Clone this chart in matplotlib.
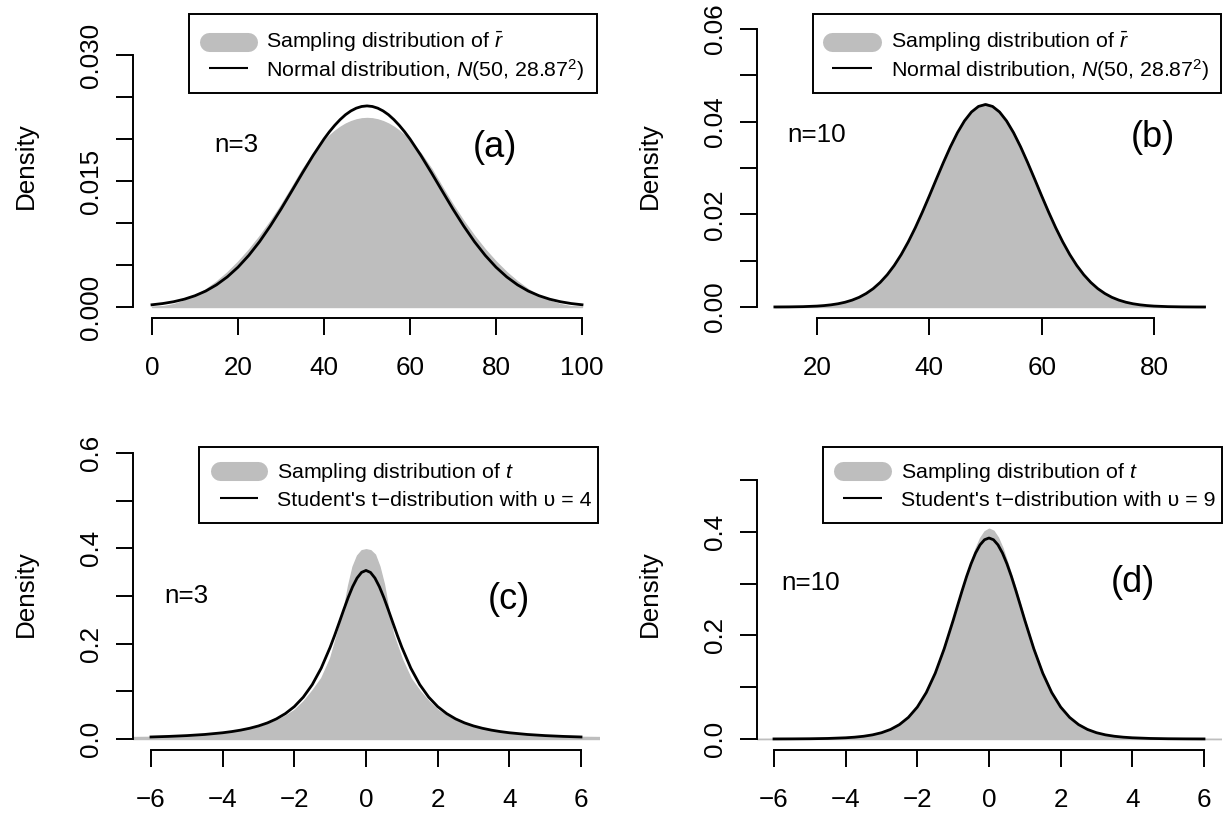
import matplotlib
matplotlib.use("Agg")
import matplotlib.pyplot as plt
from matplotlib.patches import Rectangle
from matplotlib.lines import Line2D

plt.rcParams['font.family'] = ['Liberation Sans', 'DejaVu Sans']
plt.rcParams['mathtext.fontset'] = 'custom'
plt.rcParams['mathtext.rm'] = 'Liberation Sans'
plt.rcParams['mathtext.it'] = 'Liberation Sans:italic'

# ---------------- data ----------------
# (a) n=3, sample mean
a_x = [0, 2.5, 5, 7.5, 10, 12.5, 15, 17.5, 20, 22.5, 25, 27.5, 30, 32.5, 35, 37.5, 40,
       41.25, 42.5, 43.75, 45, 46.25, 47.5, 48.75, 50, 51.25, 52.5, 53.75, 55, 56.25, 57.5,
       58.75, 60,
       62.5, 65, 67.5, 70, 72.5, 75, 77.5, 80, 82.5, 85, 87.5, 90, 92.5, 95, 97.5, 100]
a_hist = [0.00002, 0.000084, 0.000338, 0.00076, 0.00135, 0.00211, 0.00304, 0.00413, 0.0054,
          0.00683, 0.00844, 0.01021, 0.01215, 0.01426, 0.01643, 0.01828, 0.0198,
          0.020433, 0.02098, 0.021445, 0.02183, 0.02212, 0.02233, 0.022458, 0.0225, 0.022458,
          0.02233, 0.02212, 0.02183, 0.021445, 0.02098, 0.020433, 0.0198,
          0.01828, 0.01643, 0.01426, 0.01215, 0.01021, 0.00844, 0.00683, 0.0054, 0.00413,
          0.00304, 0.00211, 0.00135, 0.00076, 0.000338, 0.000084, 0.00002]
a_curve = [0.000266, 0.000412, 0.000626, 0.000927, 0.001344, 0.00190, 0.00264, 0.00358,
           0.00474, 0.00614, 0.00777, 0.00963, 0.01165, 0.01380, 0.01597, 0.01807, 0.02000,
           0.02086, 0.02163, 0.02231, 0.02289, 0.02334, 0.02367, 0.02387, 0.02394, 0.02387,
           0.02367, 0.02334, 0.02289, 0.02231, 0.02163, 0.02086, 0.02000,
           0.01807, 0.01597, 0.01380, 0.01165, 0.00963, 0.00777, 0.00614, 0.00474, 0.00358,
           0.00264, 0.00190, 0.001344, 0.000927, 0.000626, 0.000412, 0.000266]

# (b) n=10, sample mean
b_x = [12.5, 15, 17.5,
       20, 21.25, 22.5, 23.75, 25, 26.25, 27.5, 28.75, 30, 31.25, 32.5, 33.75, 35, 36.25,
       37.5, 38.75, 40, 41.25, 42.5, 43.75, 45, 46.25, 47.5, 48.75, 50, 51.25, 52.5, 53.75,
       55, 56.25, 57.5, 58.75, 60, 61.25, 62.5, 63.75, 65, 66.25, 67.5, 68.75, 70, 71.25,
       72.5, 73.75, 75, 76.25, 77.5, 78.75, 80,
       82.5, 85, 87.5, 89]
b_hist = [0.00001, 0.00003, 0.00008,
          0.0002, 0.00031, 0.00048, 0.00071, 0.00104, 0.00149, 0.0021, 0.00292, 0.00398,
          0.00532, 0.00701, 0.00899, 0.01138, 0.01410, 0.01716, 0.02050, 0.02402, 0.02765,
          0.03124, 0.03462, 0.03768, 0.04025, 0.04222, 0.04348, 0.04400, 0.04345, 0.04220,
          0.04022, 0.03765, 0.03460, 0.03120, 0.02762, 0.02400, 0.02047, 0.01712, 0.01405,
          0.01130, 0.00894, 0.00694, 0.00529, 0.00394, 0.00290, 0.00207, 0.00147, 0.00102,
          0.00069, 0.00046, 0.0003, 0.00019,
          0.00007, 0.00003, 0.00001, 0.000005]
b_curve = [0.0000094, 0.000028, 0.0000773,
           0.000197, 0.000307, 0.00047, 0.000700, 0.00103, 0.001483, 0.00209, 0.002912,
           0.00396, 0.005304, 0.00696, 0.008964, 0.01133, 0.01406, 0.01711, 0.02045, 0.02398,
           0.02761, 0.03118, 0.03457, 0.03761, 0.04016, 0.04209, 0.04329, 0.0437, 0.04329,
           0.04209, 0.04016, 0.03761, 0.03457, 0.03118, 0.02761, 0.02398, 0.02045, 0.01711,
           0.01406, 0.01133, 0.008964, 0.00696, 0.005304, 0.00396, 0.002912, 0.00209,
           0.001483, 0.00103, 0.000700, 0.00047, 0.000307, 0.000197,
           0.0000773, 0.000028, 0.0000094, 0.0000045]

# (c) n=3, t statistic
c_hist_x = [-6.6, -6, -5, -4, -3.5, -3, -2.5, -2.25, -2, -1.75, -1.5, -1.25, -1, -0.75, -0.625,
            -0.5, -0.375, -0.25, -0.125, 0, 0.125, 0.25, 0.375, 0.5, 0.625, 0.75, 1, 1.25, 1.5,
            1.75, 2, 2.25, 2.5, 3, 3.5, 4, 5, 6, 6.6]
c_hist = [0.004, 0.0045, 0.0068, 0.0122, 0.0168, 0.0248, 0.039, 0.049, 0.061, 0.079, 0.102, 0.128,
          0.17, 0.236, 0.272, 0.322, 0.362, 0.385, 0.396, 0.398, 0.396, 0.387, 0.362, 0.325, 0.272,
          0.222, 0.168, 0.127, 0.101, 0.079, 0.061, 0.049, 0.039, 0.0248, 0.0168, 0.0122, 0.0068,
          0.0045, 0.004]
t_x = [-6, -5.5, -5, -4.5, -4, -3.75, -3.5, -3.25, -3, -2.75, -2.5, -2.25, -2, -1.75, -1.5,
       -1.25, -1, -0.875, -0.75, -0.625, -0.5, -0.375, -0.25, -0.125, 0, 0.125, 0.25, 0.375,
       0.5, 0.625, 0.75, 0.875, 1, 1.25, 1.5, 1.75, 2, 2.25, 2.5, 2.75, 3, 3.25, 3.5, 3.75, 4,
       4.5, 5, 5.5, 6]
c_curve = [0.00427, 0.00546, 0.00713, 0.00953, 0.01309, 0.01554, 0.0186, 0.02247, 0.0274, 0.0338,
           0.0422, 0.0533, 0.0680, 0.0878, 0.1141, 0.1487, 0.1925, 0.2174, 0.2438, 0.2705,
           0.2963, 0.3193, 0.3376, 0.3495, 0.3536, 0.3495, 0.3376, 0.3193, 0.2963, 0.2705,
           0.2438, 0.2174, 0.1925, 0.1487, 0.1141, 0.0878, 0.0680, 0.0533, 0.0422, 0.0338,
           0.0274, 0.02247, 0.0186, 0.01554, 0.01309, 0.00953, 0.00713, 0.00546, 0.00427]

# (d) n=10, t statistic
d_hist_x = [-6.6, -6, -5, -4, -3.5, -3, -2.5, -2.25, -2, -1.75, -1.5, -1.25, -1, -0.75, -0.5,
            -0.375, -0.25, -0.125, 0, 0.125, 0.25, 0.375, 0.5, 0.75, 1, 1.25, 1.5, 1.75, 2, 2.25,
            2.5, 3, 3.5, 4, 5, 6, 6.6]
d_hist = [0.0001, 0.00015, 0.0006, 0.0024, 0.0053, 0.0121, 0.0276, 0.0415, 0.0615, 0.0895, 0.127,
          0.1745, 0.230, 0.289, 0.342, 0.368, 0.388, 0.401, 0.406, 0.402, 0.389, 0.369, 0.343,
          0.289, 0.229, 0.1745, 0.127, 0.0895, 0.0615, 0.0415, 0.0276, 0.0121, 0.0053, 0.0024,
          0.0006, 0.00015, 0.0001]
d_curve = [0.000124, 0.000246, 0.000504, 0.00107, 0.00235, 0.00351, 0.00529, 0.0080, 0.01213,
           0.01838, 0.0278, 0.0417, 0.0617, 0.0897, 0.1271, 0.1743, 0.2291, 0.2580, 0.2865,
           0.3138, 0.3383, 0.3591, 0.3748, 0.3847, 0.3880, 0.3847, 0.3748, 0.3591, 0.3383,
           0.3138, 0.2865, 0.2580, 0.2291, 0.1743, 0.1271, 0.0897, 0.0617, 0.0417, 0.0278,
           0.01838, 0.01213, 0.0080, 0.00529, 0.00351, 0.00235, 0.00107, 0.000504, 0.000246,
           0.000124]

# ticks and labels
a_xticks = [0, 20, 40, 60, 80, 100]
a_yticks = [0, 0.005, 0.01, 0.015, 0.02, 0.025, 0.03]
a_ylabels = ['0.000', '', '', '0.015', '', '', '0.030']
b_xticks = [20, 40, 60, 80]
b_yticks = [0, 0.01, 0.02, 0.03, 0.04, 0.05, 0.06]
b_ylabels = ['0.00', '', '0.02', '', '0.04', '', '0.06']
t_xticks = [-6, -4, -2, 0, 2, 4, 6]
t_xlabels = ['\u22126', '\u22124', '\u22122', '0', '2', '4', '6']
c_yticks = [0, 0.1, 0.2, 0.3, 0.4, 0.5, 0.6]
c_ylabels = ['0.0', '', '0.2', '', '0.4', '', '0.6']
d_yticks = [0, 0.1, 0.2, 0.3, 0.4, 0.5]
d_ylabels = ['0.0', '', '0.2', '', '0.4', '']

leg_mean = [r'Sampling distribution of $\bar{r}$',
            r'Normal distribution, $N$(50, 28.87$^2$)']
leg_t4 = [r'Sampling distribution of $t$',
          'Student\'s t\u2212distribution with \u03c5 = 4']
leg_t9 = [r'Sampling distribution of $t$',
          'Student\'s t\u2212distribution with \u03c5 = 9']

# ---------------- layout ----------------
W, H = 1231, 816
GRAY = '#BEBEBE'
FS = 18.7
fig = plt.figure(figsize=(W / 100, H / 100), dpi=100)


def make_ax(L, R, T, B, xref, yref):
    (xv0, xp0), (xv1, xp1) = xref
    (yv0, yp0), (yv1, yp1) = yref
    sx = (xp1 - xp0) / (xv1 - xv0)
    sy = (yp1 - yp0) / (yv1 - yv0)
    ax = fig.add_axes([L / W, 1 - B / H, (R - L) / W, (B - T) / H])
    ax.set_xlim(xv0 + (L - xp0) / sx, xv0 + (R - xp0) / sx)
    ax.set_ylim(yv0 + (B - yp0) / sy, yv0 + (T - yp0) / sy)
    ax.patch.set_alpha(0)
    for s in ['top', 'right']:
        ax.spines[s].set_visible(False)
    for s in ['left', 'bottom']:
        ax.spines[s].set_linewidth(1.4)
    ax.tick_params(axis='both', direction='out', length=12, width=1.4, labelsize=FS)
    ax.tick_params(axis='y', pad=9.5)
    ax.tick_params(axis='x', pad=15.5)
    return ax


def finish(ax, xt, xl, yt, yl):
    ax.set_xticks(xt)
    ax.set_xticklabels(xl)
    ax.set_yticks(yt)
    ax.set_yticklabels(yl, rotation=90, va='center')
    ax.spines['bottom'].set_bounds(xt[0], xt[-1])
    ax.spines['left'].set_bounds(yt[0], yt[-1])


def fx(x):
    return x / W


def fy(y):
    return 1 - y / H


def legend(L, T, R, B, seg, patch_y, line_y, text_x, base1, base2, labels):
    fig.add_artist(Rectangle((fx(L), fy(B)), (R - L) / W, (B - T) / H, transform=fig.transFigure,
                             facecolor='white', edgecolor='black', lw=1.4, zorder=5))
    fig.add_artist(Line2D([fx(seg[0]), fx(seg[1])], [fy(patch_y)] * 2, transform=fig.transFigure,
                          color=GRAY, lw=13.7, solid_capstyle='round', zorder=6))
    fig.add_artist(Line2D([fx(seg[0]), fx(seg[1])], [fy(line_y)] * 2, transform=fig.transFigure,
                          color='black', lw=1.5, solid_capstyle='butt', zorder=6))
    fig.text(fx(text_x), fy(base1), labels[0], fontsize=15.4, va='baseline', ha='left', zorder=7)
    fig.text(fx(text_x), fy(base2), labels[1], fontsize=15.4, va='baseline', ha='left', zorder=7)


def ylabel(x, y):
    fig.text(fx(x), fy(y), 'Density', fontsize=FS, rotation=90, rotation_mode='anchor',
             ha='center', va='baseline')


# panel (a)
ax = make_ax(133, 599, 21, 318, ((0, 152), (100, 582)), ((0, 307), (0.03, 55)))
ax.fill_between(a_x, a_hist, color=GRAY, lw=1.0, edgecolor=GRAY)
ax.plot(a_x, a_curve, color='black', lw=2.0)
finish(ax, a_xticks, [str(v) for v in a_xticks], a_yticks, a_ylabels)
fig.text(fx(236), fy(152), 'n=3', fontsize=FS, ha='center', va='baseline')
fig.text(fx(495), fy(157), '(a)', fontsize=26, ha='center', va='baseline')
legend(189, 14, 597, 93, (208.5, 247.5), 41.5, 68.3, 266, 48.3, 76.7, leg_mean)
ylabel(33, 166)

# panel (b)
ax = make_ax(757, 1222, 21, 318, ((20, 817), (80, 1154)), ((0, 307), (0.06, 29)))
ax.fill_between(b_x, b_hist, color=GRAY, lw=1.0, edgecolor=GRAY)
ax.plot(b_x, b_curve, color='black', lw=2.0)
finish(ax, b_xticks, [str(v) for v in b_xticks], b_yticks, b_ylabels)
fig.text(fx(817), fy(142), 'n=10', fontsize=FS, ha='center', va='baseline')
fig.text(fx(1153), fy(147), '(b)', fontsize=26, ha='center', va='baseline')
legend(813, 14, 1221, 93, (832.5, 871.5), 41.5, 68.3, 891, 48.3, 76.7, leg_mean)
ylabel(657, 166)

# panel (c)
ax = make_ax(133, 599, 441, 750, ((-6, 151), (6, 581)), ((0, 739), (0.6, 453)))
ax.fill_between(c_hist_x, c_hist, color=GRAY, lw=1.0, edgecolor=GRAY)
ax.plot(t_x, c_curve, color='black', lw=2.0)
finish(ax, t_xticks, t_xlabels, c_yticks, c_ylabels)
fig.text(fx(186), fy(603), 'n=3', fontsize=FS, ha='center', va='baseline')
fig.text(fx(509), fy(609), '(c)', fontsize=26, ha='center', va='baseline')
legend(199, 447, 598, 523, (219.5, 257.5), 471, 498, 277, 478, 506, leg_t4)
ylabel(33, 594)

# panel (d)
ax = make_ax(757, 1221, 441, 750, ((-6, 774), (6, 1204)), ((0, 739), (0.5, 480)))
ax.fill_between(d_hist_x, d_hist, color=GRAY, lw=1.0, edgecolor=GRAY)
ax.plot(t_x, d_curve, color='black', lw=2.0)
finish(ax, t_xticks, t_xlabels, d_yticks, d_ylabels)
fig.text(fx(811), fy(590), 'n=10', fontsize=FS, ha='center', va='baseline')
fig.text(fx(1133), fy(592), '(d)', fontsize=26, ha='center', va='baseline')
legend(823, 447, 1222, 523, (842.5, 882.5), 471, 498, 901, 478, 506, leg_t9)
ylabel(657, 594)

fig.savefig('out.png', dpi=100)
